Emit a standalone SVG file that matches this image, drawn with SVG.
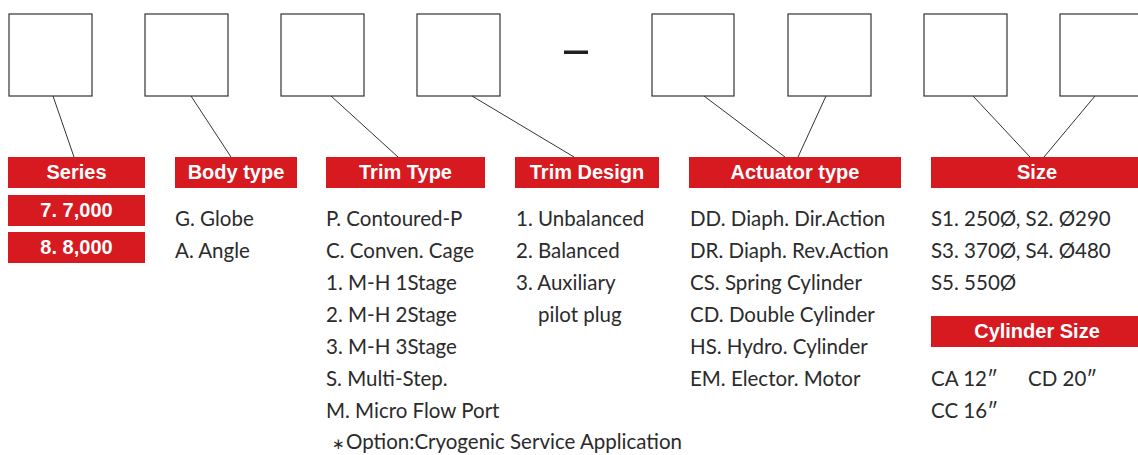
<svg xmlns="http://www.w3.org/2000/svg" width="1138" height="455" viewBox="0 0 1138 455">
<style>
.box{fill:#fff;stroke:#333;stroke-width:1.2}
.lbl{fill:#d71920}
.lt{font-family:"Liberation Sans",Arial,sans-serif;font-weight:bold;font-size:20px;fill:#fff;text-anchor:middle}
.t{font-family:Lato,"Noto Sans",sans-serif;font-size:20.5px;fill:#2b2b2b}
.ast{font-family:"DejaVu Sans",sans-serif;font-size:15px}
.conn line{stroke:#333;stroke-width:1}
</style>
<rect width="1138" height="455" fill="#fff"/>
<g id="boxes">
<rect id="box1" class="box" x="9" y="14" width="83" height="82"/>
<rect id="box2" class="box" x="145" y="14" width="83" height="82"/>
<rect id="box3" class="box" x="281" y="14" width="83" height="82"/>
<rect id="box4" class="box" x="417" y="14" width="83" height="82"/>
<rect id="box5" class="box" x="652" y="14" width="82" height="82"/>
<rect id="box6" class="box" x="788" y="14" width="83" height="82"/>
<rect id="box7" class="box" x="924" y="14" width="83" height="82"/>
<rect id="box8" class="box" x="1060" y="14" width="83" height="82"/>
<rect id="dash" x="564" y="50.5" width="24" height="3.5" fill="#231f20"/>
</g>
<g id="connectors" class="conn">
<line x1="53" y1="96" x2="74" y2="157"/>
<line x1="191" y1="96" x2="231" y2="157"/>
<line x1="331" y1="96" x2="398" y2="157"/>
<line x1="472" y1="96" x2="574" y2="157"/>
<line x1="704" y1="96" x2="785" y2="157"/>
<line x1="826" y1="96" x2="798" y2="157"/>
<line x1="973" y1="96" x2="1030" y2="157"/>
<line x1="1095" y1="96" x2="1044" y2="157"/>
</g>
<g id="series">
<rect class="lbl" x="8" y="157" width="137" height="31"/>
<text class="lt" x="76.5" y="179">Series</text>
<rect class="lbl" x="8" y="195" width="137" height="31"/>
<text class="lt" x="76.5" y="217">7. 7,000</text>
<rect class="lbl" x="8" y="232" width="137" height="31"/>
<text class="lt" x="76.5" y="254">8. 8,000</text>
</g>
<g id="body-type">
<rect class="lbl" x="175" y="157" width="122" height="31"/>
<text class="lt" x="236" y="179">Body type</text>
<text class="t" x="175" y="226">G. Globe</text>
<text class="t" x="175" y="258">A. Angle</text>
</g>
<g id="trim-type">
<rect class="lbl" x="326" y="157" width="159" height="31"/>
<text class="lt" x="405.5" y="179">Trim Type</text>
<text class="t" x="326" y="226">P. Contoured-P</text>
<text class="t" x="326" y="258">C. Conven. Cage</text>
<text class="t" x="326" y="290">1. M-H 1Stage</text>
<text class="t" x="326" y="322">2. M-H 2Stage</text>
<text class="t" x="326" y="354">3. M-H 3Stage</text>
<text class="t" x="326" y="386">S. Multi-Step.</text>
<text class="t" x="326" y="418">M. Micro Flow Port</text>
<text class="t" x="332" y="449"><tspan class="ast">∗</tspan><tspan x="346">Option:Cryogenic Service Application</tspan></text>
</g>
<g id="trim-design">
<rect class="lbl" x="515" y="157" width="144" height="31"/>
<text class="lt" x="587" y="179">Trim Design</text>
<text class="t" x="516" y="226">1. Unbalanced</text>
<text class="t" x="516" y="258">2. Balanced</text>
<text class="t" x="516" y="290">3. Auxiliary</text>
<text class="t" x="538" y="322">pilot plug</text>
</g>
<g id="actuator-type">
<rect class="lbl" x="689" y="157" width="212" height="31"/>
<text class="lt" x="795" y="179">Actuator type</text>
<text class="t" x="690" y="226">DD. Diaph. Dir.Action</text>
<text class="t" x="690" y="258">DR. Diaph. Rev.Action</text>
<text class="t" x="690" y="290">CS. Spring Cylinder</text>
<text class="t" x="690" y="322">CD. Double Cylinder</text>
<text class="t" x="690" y="354">HS. Hydro. Cylinder</text>
<text class="t" x="690" y="386">EM. Elector. Motor</text>
</g>
<g id="size">
<rect class="lbl" x="931" y="157" width="210" height="31"/>
<text class="lt" x="1037" y="179">Size</text>
<text class="t" x="931" y="226">S1. 250Ø, S2. Ø290</text>
<text class="t" x="931" y="258">S3. 370Ø, S4. Ø480</text>
<text class="t" x="931" y="290">S5. 550Ø</text>
</g>
<g id="cylinder-size">
<rect class="lbl" x="931" y="316" width="210" height="31"/>
<text class="lt" x="1037" y="338">Cylinder Size</text>
<text class="t" x="931" y="386">CA 12″</text>
<text class="t" x="1028" y="386">CD 20″</text>
<text class="t" x="931" y="418">CC 16″</text>
</g>
</svg>
